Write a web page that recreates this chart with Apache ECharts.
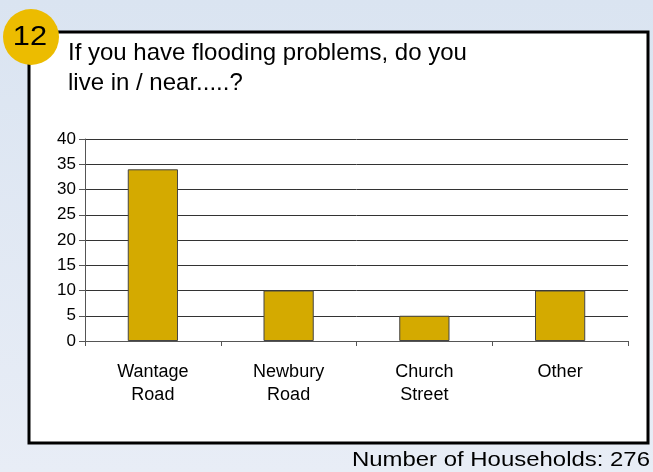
<!DOCTYPE html>
<html>
<head>
<meta charset="utf-8">
<script src="https://cdn.jsdelivr.net/npm/echarts@6/dist/echarts.min.js"></script>
<style>
html,body{margin:0;padding:0;}
#c{width:653px;height:472px;}
</style>
</head>
<body>
<div id="c"></div>
<script>
const categories = ['Wantage\nRoad', 'Newbury\nRoad', 'Church\nStreet', 'Other'];
const households = [34, 10, 5, 10];
const yTicks = [0, 5, 10, 15, 20, 25, 30, 35, 40];
const titleText = 'If you have flooding problems, do you\nlive in / near.....?';
const footerText = 'Number of Households: 276';
const badgeText = '12';

const chart = echarts.init(document.getElementById('c'), null, {renderer: 'canvas'});
const FONT = '"Liberation Sans", Arial, Helvetica, sans-serif';
chart.setOption({
  animation: false,
  backgroundColor: {
    type: 'linear', x: 0, y: 0, x2: 0, y2: 1,
    colorStops: [{offset: 0, color: '#DAE4F1'}, {offset: 1, color: '#E8EDF6'}]
  },
  graphic: [
    {type: 'rect', z: -10, shape: {x: 29, y: 32, width: 619, height: 411},
     style: {fill: '#FFFFFF', stroke: '#000000', lineWidth: 3}},
    {type: 'circle', z: 10, shape: {cx: 31, cy: 37, r: 28}, style: {fill: '#ECBC00'}},
    {type: 'text', z: 11, x: 30, y: 37, scaleX: 1.1,
     style: {text: badgeText, fill: '#000', font: '28px ' + FONT, align: 'center', verticalAlign: 'middle'}},
    {type: 'text', z: 11, x: 68, y: 38,
     style: {text: titleText, fill: '#000', font: '24px ' + FONT, lineHeight: 30, align: 'left', verticalAlign: 'top'}},
    {type: 'text', z: 11, x: 650, y: 460, scaleX: 1.14,
     style: {text: footerText, fill: '#000', font: '21px ' + FONT, align: 'right', verticalAlign: 'middle'}}
  ],
  grid: {left: 85, right: 25, top: 139, bottom: 131, containLabel: false},
  xAxis: {
    type: 'category',
    data: categories,
    axisLine: {lineStyle: {color: '#555', width: 1}},
    axisTick: {show: true, length: 5, lineStyle: {color: '#555'}},
    axisLabel: {color: '#000', fontFamily: FONT, fontSize: 18, lineHeight: 23, margin: 20}
  },
  yAxis: {
    type: 'value',
    min: 0, max: 40, interval: 5,
    axisLine: {show: true, lineStyle: {color: '#555', width: 1}},
    axisTick: {show: true, length: 6, lineStyle: {color: '#555'}},
    axisLabel: {color: '#000', fontFamily: FONT, fontSize: 17, margin: 9,
      formatter: v => yTicks.includes(v) ? String(v) : ''},
    splitLine: {show: true, lineStyle: {color: '#333', width: 1}}
  },
  series: [{
    type: 'bar',
    data: households,
    barWidth: '37%',
    itemStyle: {color: '#D4AA00', borderColor: '#444', borderWidth: 1}
  }]
});
</script>
</body>
</html>
